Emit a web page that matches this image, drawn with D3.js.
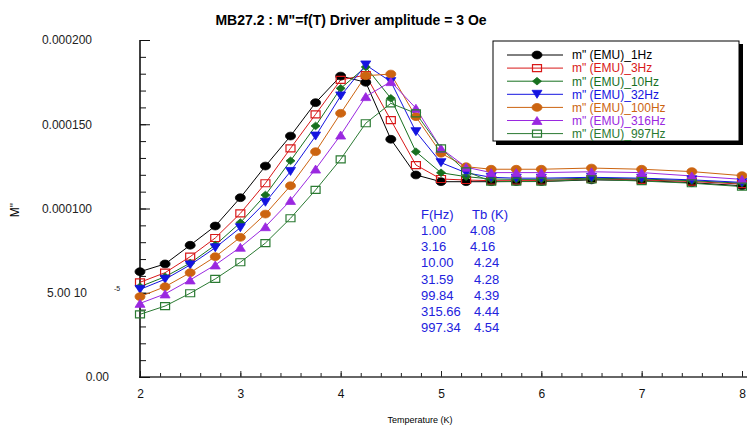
<!DOCTYPE html>
<html>
<head>
<meta charset="utf-8">
<script src="https://cdn.jsdelivr.net/npm/d3@7"></script>
<style>
  body { margin: 0; background: #fff; }
  svg text { font-family: Arial, "Liberation Sans", sans-serif; }
</style>
</head>
<body>
<svg id="chart" width="747" height="434"></svg>
<script>
// temperatures (K)
const temps = [2, 2.25, 2.5, 2.75, 3, 3.25, 3.5, 3.75, 4, 4.25, 4.5, 4.75, 5, 5.25, 5.5, 5.75, 6, 6.5, 7, 7.5, 8];

// m" (EMU) in units of 1e-6
const m1Hz   = [62.5, 67.1, 78.2, 89.6, 106.4, 125.2, 143.0, 162.8, 178.6, 174.9, 141.1, 119.9, 115.9, 115.9, 115.9, 116.0, 116.0, 117.0, 116.6, 115.3, 113.5];
const m3Hz   = [56.2, 61.9, 71.4, 82.5, 97.1, 115.0, 135.7, 155.9, 176.3, 179.2, 152.5, 125.8, 117.5, 116.9, 116.5, 116.5, 116.6, 117.5, 117.0, 116.0, 114.5];
const m10Hz  = [53.6, 59.5, 67.6, 78.3, 91.6, 108.0, 128.3, 149.0, 171.3, 184.0, 165.4, 133.7, 121.2, 118.9, 117.5, 117.3, 117.3, 118.0, 117.5, 116.5, 115.0];
const m32Hz  = [52.0, 58.0, 66.5, 76.7, 88.6, 103.7, 122.0, 143.0, 166.8, 185.2, 175.3, 145.6, 127.2, 121.2, 118.5, 118.0, 118.0, 118.5, 118.0, 117.0, 115.5];
const m100Hz = [47.7, 53.6, 61.9, 71.4, 82.9, 96.7, 113.5, 133.7, 156.5, 178.8, 179.8, 154.5, 132.8, 124.8, 123.3, 123.3, 123.3, 124.0, 123.3, 121.9, 119.5];
const m316Hz = [43.7, 49.3, 57.6, 66.5, 77.0, 89.2, 104.8, 123.4, 143.6, 166.4, 175.3, 159.5, 135.7, 124.5, 121.3, 121.3, 121.3, 121.8, 121.3, 119.3, 117.3];
const m997Hz = [37.2, 42.1, 49.7, 58.2, 68.1, 79.5, 94.2, 111.0, 129.2, 150.6, 162.4, 156.5, 135.7, 122.0, 116.0, 116.0, 116.0, 117.3, 116.3, 115.0, 113.0];

const xTickValues = [2, 3, 4, 5, 6, 7, 8];
const yTickValues = [0, 50, 100, 150, 200];
const yTickLabels = ['0.00', '5.00 10', '0.000100', '0.000150', '0.000200'];

const tbFreqs = ['1.00', '3.16', '10.00', '31.59', '99.84', '315.66', '997.34'];
const tbTemps = ['4.08', '4.16', '4.24', '4.28', '4.39', '4.44', '4.54'];

const series = [
  { label: 'm" (EMU)_1Hz',   values: m1Hz,   color: '#000000', shape: 'circle' },
  { label: 'm" (EMU)_3Hz',   values: m3Hz,   color: '#d81818', shape: 'square' },
  { label: 'm" (EMU)_10Hz',  values: m10Hz,  color: '#17701f', shape: 'diamond' },
  { label: 'm" (EMU)_32Hz',  values: m32Hz,  color: '#1414e0', shape: 'down' },
  { label: 'm" (EMU)_100Hz', values: m100Hz, color: '#cc6410', shape: 'circle' },
  { label: 'm" (EMU)_316Hz', values: m316Hz, color: '#9a28e0', shape: 'up' },
  { label: 'm" (EMU)_997Hz', values: m997Hz, color: '#2a7a32', shape: 'square' }
];

const svg = d3.select('#chart');

const xScale = d3.scaleLinear().domain([2, 8]).range([140, 742]);
const yScale = d3.scaleLinear().domain([0, 200]).range([377, 40]);

// marker outlines, centred on 0,0
function markerPath(shape) {
  if (shape === 'circle') return 'M-5,0A5,3.9 0 1,0 5,0A5,3.9 0 1,0 -5,0Z';
  if (shape === 'square') return 'M-4.5,-3.5H4.5V3.5H-4.5Z';
  if (shape === 'diamond') return 'M-4.5,0L0,-3.8L4.5,0L0,3.8Z';
  if (shape === 'down') return 'M-5,-4H5L0,4Z';
  return 'M-5,4H5L0,-4Z';
}
function drawMarker(sel, s) {
  const open = s.shape === 'square';
  sel.append('path')
    .attr('d', markerPath(s.shape))
    .attr('fill', open ? 'none' : s.color)
    .attr('stroke', s.color)
    .attr('stroke-width', open ? 1.2 : 0.8);
}

// title
svg.append('text')
  .attr('x', 351).attr('y', 25)
  .attr('text-anchor', 'middle')
  .attr('font-size', '14px').attr('font-weight', 'bold')
  .text('MB27.2 : M"=f(T) Driver amplitude = 3 Oe');

// x axis
const xAxisG = svg.append('g').attr('transform', 'translate(0,377)');
xAxisG.append('g').call(d3.axisBottom(xScale)
  .tickValues(d3.range(2, 8.01, 0.2)).tickSize(-4).tickSizeOuter(0).tickFormat(''));
xAxisG.append('g').call(d3.axisBottom(xScale)
  .tickValues(xTickValues).tickSize(-6).tickSizeOuter(0).tickPadding(12).tickFormat(d3.format('d')));
xAxisG.selectAll('.domain').remove();
xAxisG.selectAll('line').attr('stroke', '#222');
xAxisG.selectAll('text').attr('font-size', '12px').attr('fill', '#111')
  .attr('font-family', 'Arial, "Liberation Sans", sans-serif');
xAxisG.append('line').attr('x1', 139).attr('x2', 747)
  .attr('stroke', '#333').attr('stroke-width', 1.6);

svg.append('text')
  .attr('x', 420).attr('y', 423)
  .attr('text-anchor', 'middle').attr('font-size', '9px')
  .text('Temperature (K)');

// y axis
const yAxisG = svg.append('g').attr('transform', 'translate(140,0)');
yAxisG.append('g').call(d3.axisLeft(yScale)
  .tickValues(d3.range(0, 201, 10)).tickSize(-6).tickSizeOuter(0).tickFormat(''));
yAxisG.append('g').call(d3.axisLeft(yScale)
  .tickValues(yTickValues).tickSize(-10).tickSizeOuter(0).tickFormat(''));
yAxisG.selectAll('.domain').remove();
yAxisG.selectAll('line').attr('stroke', '#111');
yAxisG.append('line').attr('y1', yScale(200)).attr('y2', yScale(0) + 1)
  .attr('stroke', '#111').attr('stroke-width', 1.6);

const yLabelEnd = [109, 87, 92, 92, 92];
svg.append('g').selectAll('text')
  .data(yTickValues)
  .join('text')
    .attr('x', (d, i) => yLabelEnd[i])
    .attr('y', d => yScale(d))
    .attr('dy', '0.36em')
    .attr('text-anchor', 'end')
    .attr('font-size', '12px')
    .attr('fill', '#222')
    .text((d, i) => yTickLabels[i]);
svg.append('text')
  .attr('x', 117).attr('y', yScale(50) - 2)
  .attr('text-anchor', 'middle').attr('font-size', '7px').attr('fill', '#222')
  .text('-5');

svg.append('text')
  .attr('transform', 'translate(19,210) rotate(-90)')
  .attr('text-anchor', 'middle').attr('font-size', '12px')
  .text('M"');

// lines and markers
const line = d3.line()
  .x((d, i) => xScale(temps[i]))
  .y(d => yScale(d));

const plotG = svg.append('g');
series.forEach(s => {
  plotG.append('path')
    .attr('d', line(s.values))
    .attr('fill', 'none')
    .attr('stroke', s.color)
    .attr('stroke-width', 1);
});
series.forEach(s => {
  plotG.append('g').selectAll('g')
    .data(s.values)
    .join('g')
      .attr('transform', (d, i) => `translate(${xScale(temps[i])},${yScale(d)})`)
      .each(function () { drawMarker(d3.select(this), s); });
});

// legend
const legendG = svg.append('g').attr('transform', 'translate(493,41)');
legendG.append('rect').attr('x', 3).attr('y', 3).attr('width', 247).attr('height', 101).attr('fill', '#000');
legendG.append('rect').attr('x', 0).attr('y', 0).attr('width', 246).attr('height', 100)
  .attr('fill', '#fff').attr('stroke', '#000').attr('stroke-width', 1);

const rowsG = legendG.selectAll('.row')
  .data(series)
  .join('g')
    .attr('class', 'row')
    .attr('transform', (d, i) => `translate(0,${14 + i * 13.1})`);
rowsG.append('line')
  .attr('x1', 14).attr('x2', 70)
  .attr('stroke', d => d.color).attr('stroke-width', 1);
rowsG.append('g').attr('transform', 'translate(44,0)')
  .each(function (d) { drawMarker(d3.select(this), d); });
rowsG.append('text')
  .attr('x', 79).attr('dy', '0.36em')
  .attr('font-size', '12px')
  .attr('fill', d => d.color)
  .text(d => d.label);

// Tb table
const tableG = svg.append('g').attr('fill', '#2222dd').attr('font-size', '13px');
tableG.append('text').attr('x', 421).attr('y', 219).text('F(Hz)');
tableG.append('text').attr('x', 472).attr('y', 219).text('Tb (K)');
tableG.selectAll('.f')
  .data(tbFreqs)
  .join('text')
    .attr('x', 421)
    .attr('y', (d, i) => 235 + i * 16.2)
    .text(d => d);
tableG.selectAll('.t')
  .data(tbTemps)
  .join('text')
    .attr('x', (d, i) => tbFreqs[i].length > 4 ? 474 : 470)
    .attr('y', (d, i) => 235 + i * 16.2)
    .text(d => d);
</script>
</body>
</html>
